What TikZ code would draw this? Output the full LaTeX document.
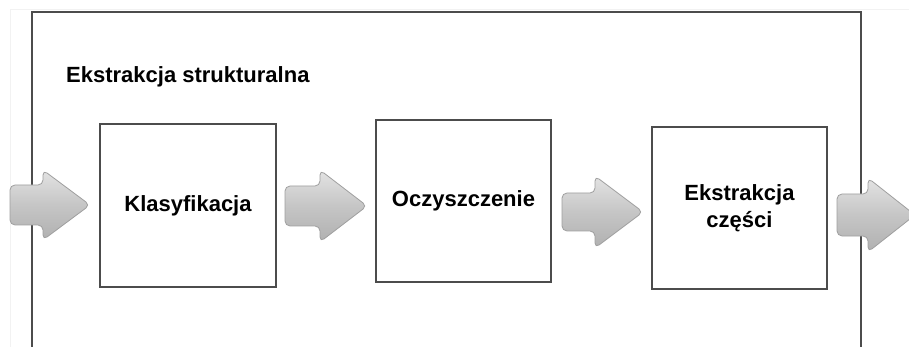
\documentclass[tikz,border=0pt]{standalone}
\usepackage{fontspec}
\setmainfont{Liberation Sans}
\begin{document}
\begin{tikzpicture}[x=1pt,y=-1pt,
  framestyle/.style={draw=black!70,line width=1.5pt},
  stagebox/.style={draw=black!70,line width=1.5pt,fill=white,rectangle,
    minimum width=175pt,minimum height=162pt,inner sep=0pt,
    font=\fontsize{22}{27}\selectfont\bfseries,align=center},
  titlestyle/.style={font=\fontsize{22}{27}\selectfont\bfseries,inner sep=0pt},
  blockarr/.style={rounded corners=5pt,draw=gray!75,line width=0.8pt,
    top color=gray!22,bottom color=gray!62,middle color=gray!45}
]
\useasboundingbox (0,0) rectangle (909,347);
\clip (0,0) rectangle (909,347);
\fill[white] (0,0) rectangle (909,347);
% faint scan lines
\draw[gray!10,line width=1pt] (10,10) -- (10,347);
\draw[gray!10,line width=1pt] (10,10) -- (909,10);
% outer frame (open at the bottom)
\draw[framestyle] (32,350) -- (32,12) -- (861,12) -- (861,350);
% title
\node[titlestyle,anchor=west] (title) at (66,77) {Ekstrakcja strukturalna};
% stages
\node[stagebox,minimum width=176pt,minimum height=163pt] (s1) at (188,205.5) {Klasyfikacja};
\node[stagebox] (s2) at (463.5,201) {Oczyszczenie};
\node[stagebox] (s3) at (739.5,208) {Ekstrakcja\\części};
% block arrows
\newcommand\blockarrow[7]{%
  % #1 x0, #2 yc, #3 head start, #4 tip, #5 body half, #6 head half, #7 name
  \path[blockarr] (#1,#2-#5) -- (#3,#2-#5) -- (#3,#2-#6) -- (#4,#2)
    -- (#3,#2+#6) -- (#3,#2+#5) -- (#1,#2+#5) -- cycle;
  \coordinate (#7) at (#4,#2);}
\blockarrow{10}{205}{43}{90}{20}{35}{a1}
\blockarrow{285}{206}{320}{367}{20}{36}{a2}
\blockarrow{562}{212}{595}{643}{19}{36}{a3}
\blockarrow{837}{215}{868}{915}{21}{37}{a4}
\end{tikzpicture}
\end{document}
